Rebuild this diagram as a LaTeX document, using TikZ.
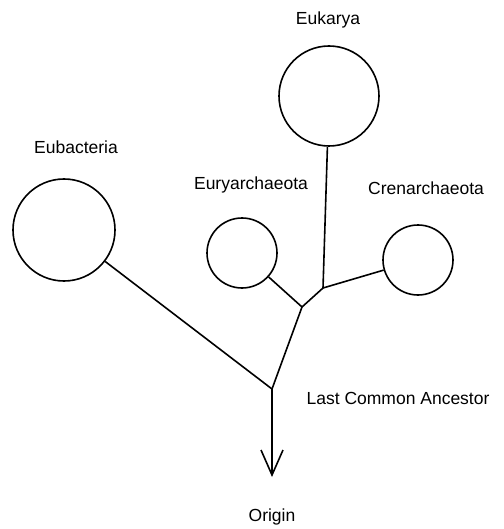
\documentclass[tikz,border=0pt]{standalone}
\usepackage{fontspec}
\setmainfont{Liberation Sans}
\usetikzlibrary{arrows.meta}
\begin{document}
\begin{tikzpicture}[x=1pt,y=-1pt,
  taxon/.style={circle,draw,line width=1.6pt,inner sep=0pt},
  branch/.style={line width=1.6pt},
  lbl/.style={font=\fontsize{17.5}{20}\selectfont,inner sep=0pt}]
\useasboundingbox (0,0) rectangle (503,529);
% circles
\node[taxon,minimum size=100pt] (euk) at (329,96) {};
\node[taxon,minimum size=102pt] (eub) at (64,230) {};
\node[taxon,minimum size=70pt] (eury) at (242,253) {};
\node[taxon,minimum size=70pt] (cren) at (418,260) {};
% junctions
\coordinate (j1) at (323,288);
\coordinate (j2) at (302,307);
\coordinate (lca) at (272,389);
\coordinate (origin) at (272,477);
% branches
\draw[branch] (euk) -- (j1);
\draw[branch] (cren) -- (j1);
\draw[branch] (j1) -- (j2);
\draw[branch] (eury) -- (j2);
\draw[branch] (j2) -- (lca);
\draw[branch] (eub) -- (lca);
\draw[branch,-{Straight Barb[length=25pt,width=22pt,line width=1.6pt]}] (lca) -- (origin);
% labels
\node[lbl] (leuk) at (328,20) {Eukarya};
\node[lbl] (leub) at (76,147) {Eubacteria};
\node[lbl] (leury) at (251,185) {Euryarchaeota};
\node[lbl] (lcren) at (426,188) {Crenarchaeota};
\node[lbl] (llca) at (398,398) {Last Common Ancestor};
\node[lbl] (lorig) at (272,517) {Origin};
\end{tikzpicture}
\end{document}
